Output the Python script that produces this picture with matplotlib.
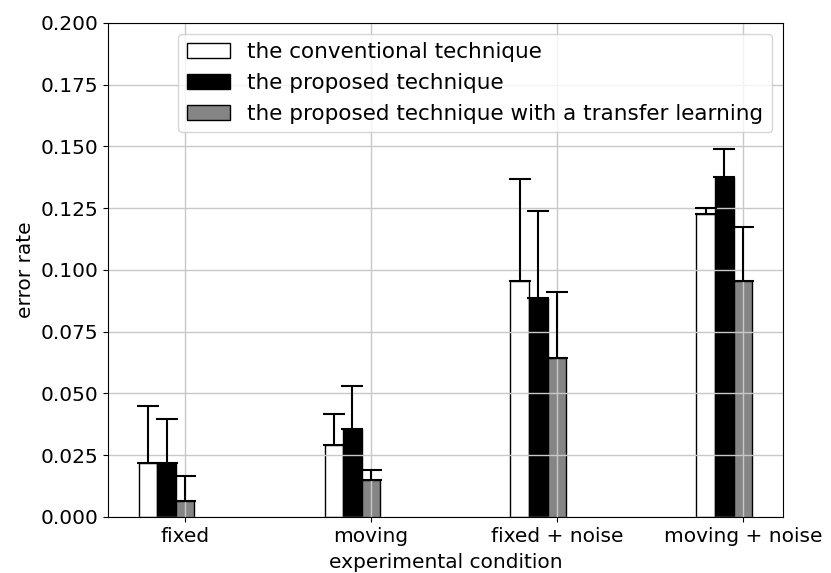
import numpy as np
import matplotlib
matplotlib.use("Agg")
import matplotlib.pyplot as plt

# values
conditions = ["fixed", "moving", "fixed + noise", "moving + noise"]
labels = [
    "the conventional technique",
    "the proposed technique",
    "the proposed technique with a transfer learning",
]
conventional = [0.022, 0.029, 0.0955, 0.1225]
proposed = [0.022, 0.0357, 0.0888, 0.1378]
transfer = [0.0063, 0.015, 0.0643, 0.0955]

# upper end of each error bar
conventional_top = [0.045, 0.0416, 0.1368, 0.1251]
proposed_top = [0.0397, 0.0528, 0.1237, 0.1491]
transfer_top = [0.0164, 0.0188, 0.0912, 0.1175]

series = [
    (conventional, conventional_top, "white"),
    (proposed, proposed_top, "black"),
    (transfer, transfer_top, "#858585"),
]

plt.rcParams["font.size"] = 14.5

fig = plt.figure(figsize=(8.31, 5.73), dpi=100)
ax = fig.add_axes([0.130, 0.098, 0.812, 0.862])

x = np.arange(len(conditions))
width = 0.1
offsets = [-2 * width, -width, 0]

for (vals, tops, color), off, label in zip(series, offsets, labels):
    vals = np.array(vals)
    err = np.array(tops) - vals
    ax.bar(
        x + off, vals, width, color=color, edgecolor="black",
        linewidth=1.0, label=label,
        yerr=[np.zeros_like(err), err],
        error_kw=dict(ecolor="black", elinewidth=1.5, capsize=8,
                      capthick=1.5),
    )

ax.set_xticks(x)
ax.set_xticklabels(conditions)
ax.set_ylim(0, 0.2)
ax.set_yticks(np.arange(0, 0.2001, 0.025))
ax.grid(True, color="#c8c8c8", linewidth=1.0)
ax.set_xlabel("experimental condition", fontsize=14.5, labelpad=5)
ax.set_ylabel("error rate", fontsize=14.5)

ax.legend(loc="upper right", fontsize=15.5, handlelength=2.0,
          borderaxespad=0.5)

fig.savefig("out.png", dpi=100)
